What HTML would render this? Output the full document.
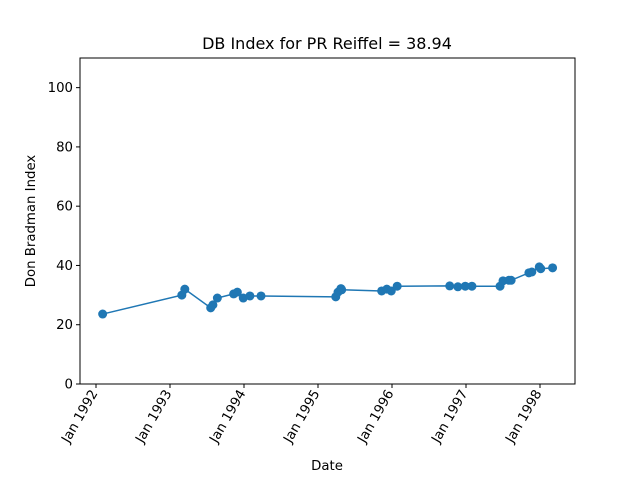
<!DOCTYPE html>
<html><head><meta charset="utf-8"><style>
body{margin:0;background:#fff;font-family:"DejaVu Sans","Liberation Sans",sans-serif}
</style></head><body>
<svg id="c" width="640" height="480" xmlns="http://www.w3.org/2000/svg" font-family="DejaVu Sans, Liberation Sans, sans-serif"></svg>
<script>
const dates=[1992.09,1993.16,1993.20,1993.55,1993.58,1993.64,1993.86,1993.91,1993.99,1994.08,1994.23,1995.24,1995.27,1995.31,1995.32,1995.86,1995.93,1995.99,1996.07,1996.78,1996.89,1996.99,1997.08,1997.46,1997.50,1997.58,1997.61,1997.85,1997.89,1997.99,1998.01,1998.17];
const values=[23.6,30.0,32.0,25.7,26.7,29.0,30.4,31.0,29.0,29.7,29.7,29.4,31.0,32.2,31.8,31.4,32.0,31.4,33.0,33.1,32.8,33.0,33.0,33.0,34.8,35.0,35.0,37.5,37.8,39.5,38.9,39.2];
const yTicks=[0,20,40,60,80,100];
const xTicks=[1992,1993,1994,1995,1996,1997,1998];
const xLabels=["Jan 1992","Jan 1993","Jan 1994","Jan 1995","Jan 1996","Jan 1997","Jan 1998"];
const L=80,R=575,T=58,B=384;
const X=d=>96+(d-1992)*74;
const Y=v=>B-(v/110)*(B-T);
const svg=document.getElementById('c');
const NS="http://www.w3.org/2000/svg";
function mk(tag,attrs,txt){const e=document.createElementNS(NS,tag);for(const k in attrs)e.setAttribute(k,attrs[k]);if(txt!==undefined)e.textContent=txt;svg.appendChild(e);return e;}
let e;
e=mk('rect',{x:L,y:T,width:R-L,height:B-T,fill:'none',stroke:'#000','stroke-width':1});


yTicks.forEach(v=>{
 e=mk('line',{x1:L-4,x2:L,y1:Y(v),y2:Y(v),stroke:'#000'});
 
 
 e=mk('text',{x:L-7,y:Y(v)+4.5,'text-anchor':'end','font-size':13.3},String(v));
 
 
});
xTicks.forEach((d,i)=>{
 e=mk('line',{x1:X(d),x2:X(d),y1:B,y2:B+4,stroke:'#000'});
 
 
 const tx=X(d)+2,ty=B+9;
 e=mk('text',{x:tx,y:ty,'text-anchor':'end','font-size':13.3,transform:`rotate(-60 ${tx} ${ty})`},xLabels[i]);
 
 
});
e=mk('polyline',{points:dates.map((d,i)=>X(d)+','+Y(values[i])).join(' '),fill:'none',stroke:'#1f77b4','stroke-width':1.5});


dates.forEach((d,i)=>{
 e=mk('circle',{cx:X(d),cy:Y(values[i]),r:4.5,fill:'#1f77b4'});
 
 
});
e=mk('text',{x:327,y:49,'text-anchor':'middle','font-size':16},'DB Index for PR Reiffel = 38.94');


e=mk('text',{x:327,y:470,'text-anchor':'middle','font-size':13.3},'Date');


e=mk('text',{x:35,y:221,'text-anchor':'middle','font-size':13.3,transform:'rotate(-90 35 221)'},'Don Bradman Index');


</script>
</body></html>
